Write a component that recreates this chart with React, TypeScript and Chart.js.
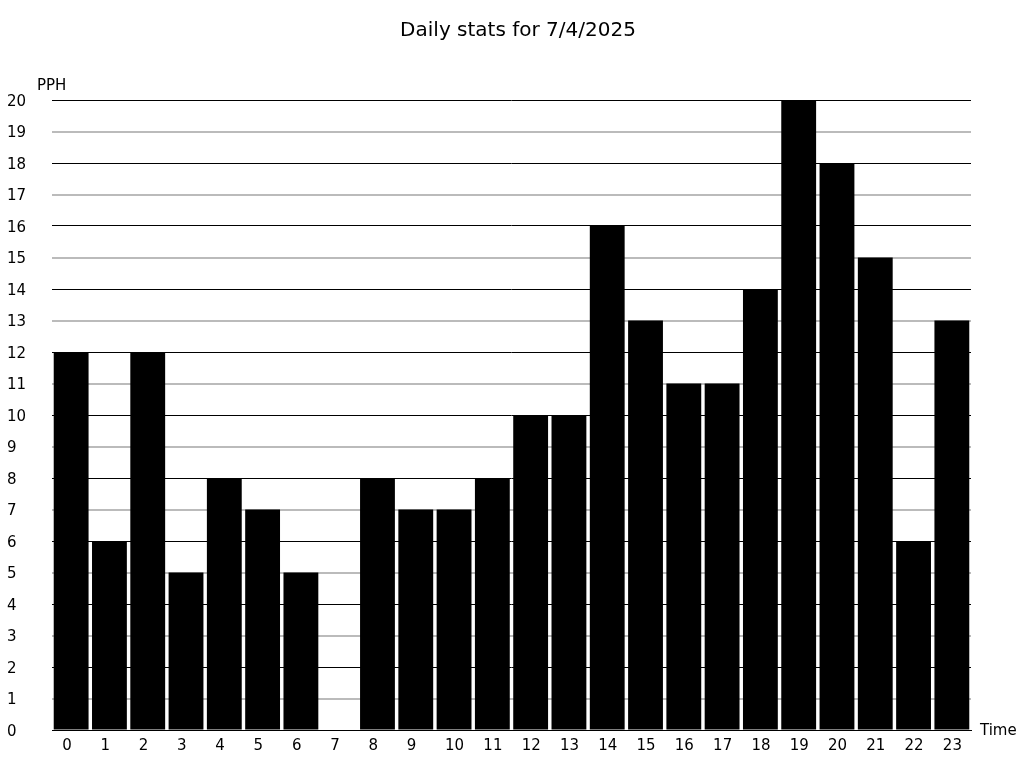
import React, { useEffect, useRef } from "react";
import { Chart, registerables } from "chart.js";

Chart.register(...registerables);

const hours: string[] = ["0","1","2","3","4","5","6","7","8","9","10","11","12","13","14","15","16","17","18","19","20","21","22","23"];
const pph: number[] = [12, 6, 12, 5, 8, 7, 5, 0, 8, 7, 7, 8, 10, 10, 16, 13, 11, 11, 14, 20, 18, 15, 6, 13];
const chartTitle = "Daily stats for 7/4/2025";
const yAxisLabel = "PPH";
const xAxisLabel = "Time";

const FONT = "'DejaVu Sans', sans-serif";

const textPlugin = {
  id: "extraText",
  afterDraw(chart: any) {
    const { ctx, chartArea } = chart;
    ctx.save();
    ctx.fillStyle = "#000";
    ctx.font = `20px ${FONT}`;
    ctx.textAlign = "center";
    ctx.textBaseline = "middle";
    ctx.fillText(chartTitle, 518, 31);
    ctx.font = `15px ${FONT}`;
    ctx.textAlign = "left";
    ctx.fillText(yAxisLabel, chartArea.left - 15, chartArea.top - 14);
    ctx.fillText(xAxisLabel, chartArea.right + 9, chartArea.bottom + 1);
    ctx.restore();
  },
};

export default function App() {
  const ref = useRef<HTMLCanvasElement | null>(null);
  useEffect(() => {
    document.body.style.margin = "0";
    const chart = new Chart(ref.current as HTMLCanvasElement, {
      type: "bar",
      data: {
        labels: hours,
        datasets: [
          {
            data: pph,
            backgroundColor: "#000",
            borderWidth: 0,
            barPercentage: 0.91,
            categoryPercentage: 1,
          },
        ],
      },
      options: {
        animation: false,
        responsive: false,
        layout: { padding: { top: 100, left: 7, right: 53, bottom: 0 } },
        plugins: { legend: { display: false }, title: { display: false }, tooltip: { enabled: false } },
        scales: {
          x: {
            grid: { display: false, drawTicks: false },
            border: { display: true, color: "#000", width: 1 },
            ticks: {
              color: "#000",
              font: { family: FONT, size: 15 },
              padding: 7,
              maxRotation: 0,
              autoSkip: false,
              align: "start",
              labelOffset: -9,
            },
            afterFit: (s: any) => { s.height = 38; },
          },
          y: {
            min: 0,
            max: 20,
            grid: {
              drawTicks: false,
              color: (c: any) => (c.tick && c.tick.value % 2 === 0 ? "#000" : "#bbb"),
              lineWidth: (c: any) => (c.tick && c.tick.value % 2 === 0 ? 1 : 2),
            },
            border: { display: false },
            ticks: {
              stepSize: 1,
              color: "#000",
              font: { family: FONT, size: 15 },
              crossAlign: "far",
              padding: 0,
              labelOffset: 2,
            },
            afterFit: (s: any) => { s.width = 45; },
          },
        },
      },
      plugins: [textPlugin],
    });
    return () => chart.destroy();
  }, []);
  return (
    <div style={{ position: "absolute", left: 0, top: 0, width: 1024, height: 768 }}>
      <canvas ref={ref} width={1024} height={768} />
    </div>
  );
}
